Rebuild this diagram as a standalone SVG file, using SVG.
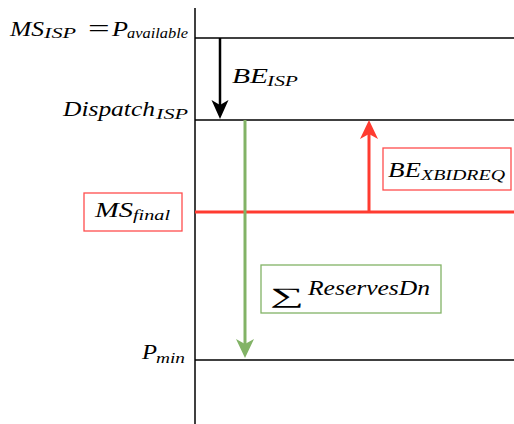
<svg xmlns="http://www.w3.org/2000/svg" width="514" height="424" viewBox="0 0 514 424">
<style>
.t{font-family:"Liberation Serif","DejaVu Serif",serif;font-style:italic;font-size:22px;fill:#000}
.s{font-size:15px}
.ax{stroke:#000;stroke-width:1.5;fill:none}
</style>
<rect width="514" height="424" fill="#fff"/>
<g id="axes">
<line class="ax" x1="195" y1="8" x2="195" y2="424"/>
<line class="ax" x1="195" y1="38" x2="514" y2="38"/>
<line class="ax" x1="195" y1="120" x2="514" y2="120"/>
<line class="ax" x1="195" y1="360" x2="514" y2="360"/>
<line x1="195" y1="212" x2="514" y2="212" stroke="#ff3b30" stroke-width="3"/>
</g>
<g id="connectors">
<line x1="220" y1="38" x2="220" y2="108" stroke="#000" stroke-width="2.5"/>
<path d="M211.5,100 L220,119 L228.5,100 L220,105 Z" fill="#000"/>
<line x1="245" y1="120" x2="245" y2="346" stroke="#82b366" stroke-width="3"/>
<path d="M236,339 L245,358 L254,339 L245,344 Z" fill="#82b366"/>
<line x1="369" y1="212" x2="369" y2="132" stroke="#ff3b30" stroke-width="3"/>
<path d="M360,139 L369,120 L378,139 L369,134 Z" fill="#ff3b30"/>
</g>
<g id="label-ms-isp">
<text class="t" x="10" y="36" textLength="34" lengthAdjust="spacingAndGlyphs">MS</text>
<text class="t s" x="44" y="38" textLength="32" lengthAdjust="spacingAndGlyphs">ISP</text>
<text class="t" transform="translate(88,36) scale(1.6,1)" x="0" y="0" style="font-style:normal;font-size:24px">=</text>
<text class="t" x="112" y="36" textLength="16" lengthAdjust="spacingAndGlyphs">P</text>
<text class="t s" x="127" y="38" textLength="61" lengthAdjust="spacingAndGlyphs">available</text>
</g>
<g id="label-dispatch">
<text class="t" x="63" y="116" textLength="92" lengthAdjust="spacingAndGlyphs">Dispatch</text>
<text class="t s" x="156" y="118.5" textLength="32" lengthAdjust="spacingAndGlyphs">ISP</text>
</g>
<g id="label-pmin">
<text class="t" x="142" y="359" textLength="15" lengthAdjust="spacingAndGlyphs">P</text>
<text class="t s" x="156" y="362.5" textLength="29" lengthAdjust="spacingAndGlyphs">min</text>
</g>
<g id="label-be-isp">
<text class="t" x="232" y="83" textLength="36" lengthAdjust="spacingAndGlyphs">BE</text>
<text class="t s" x="267" y="85.5" textLength="31" lengthAdjust="spacingAndGlyphs">ISP</text>
</g>
<g id="node-ms-final">
<rect x="84" y="193" width="98" height="38" fill="#fff" stroke="#ff4d4d" stroke-width="1.3"/>
<text class="t" x="95" y="217" textLength="38" lengthAdjust="spacingAndGlyphs">MS</text>
<text class="t s" x="133" y="220" textLength="37" lengthAdjust="spacingAndGlyphs">final</text>
</g>
<g id="node-be-xbidreq">
<rect x="383" y="148" width="128" height="42" fill="#fff" stroke="#ff4d4d" stroke-width="1.3"/>
<text class="t" x="388" y="177" textLength="33" lengthAdjust="spacingAndGlyphs">BE</text>
<text class="t s" x="421" y="179.5" textLength="84" lengthAdjust="spacingAndGlyphs">XBIDREQ</text>
</g>
<g id="node-reserves">
<rect x="261" y="265" width="180" height="48" fill="#fff" stroke="#82b366" stroke-width="1.3"/>
<text class="t" x="270" y="303" font-size="38" textLength="34" lengthAdjust="spacingAndGlyphs">∑</text>
<text class="t" x="308" y="295" textLength="122" lengthAdjust="spacingAndGlyphs">ReservesDn</text>
</g>
</svg>
